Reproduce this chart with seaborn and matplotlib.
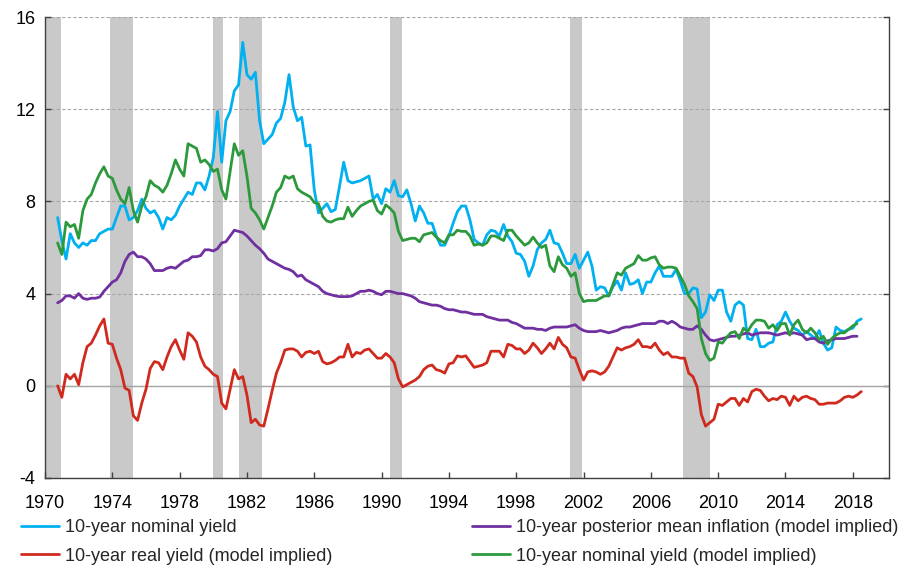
import numpy as np
import pandas as pd
import seaborn as sns
import matplotlib.pyplot as plt

# Quarterly observations, 1970Q4 .. 2018Q3
quarters = pd.period_range("1970Q4", "2018Q3", freq="Q")

nominal_yield = [
    7.3,
    6.3, 5.5, 6.6, 6.2,  6.0, 6.2, 6.1, 6.3,  6.3, 6.6, 6.7, 6.8,  6.8, 7.3, 7.8, 7.8,
    7.2, 7.3, 7.6, 8.1,  7.7, 7.5, 7.6, 7.3,  6.8, 7.3, 7.2, 7.4,  7.8, 8.1, 8.4, 8.3,
    8.8, 8.8, 8.5, 9.1,  9.9, 11.9, 9.7, 11.5,  11.9, 12.8, 13.05, 14.9,  13.5, 13.3, 13.6, 11.5,
    10.5, 10.7, 10.9, 11.4,  11.6, 12.3, 13.5, 12.1,  11.5, 11.65, 10.4, 10.45,  8.5, 7.5, 7.7, 7.9,
    7.55, 7.65, 8.65, 9.7,  8.9, 8.8, 8.85, 8.9,  9.0, 9.1, 8.1, 8.3,  7.9, 8.55, 8.4, 8.9,
    8.25, 8.2, 8.5, 7.9,  7.15, 7.8, 7.5, 7.05,  7.05, 6.5, 6.1, 6.1,  6.5, 7.05, 7.55, 7.8,
    7.8, 7.2, 6.35, 6.2,  6.1, 6.55, 6.75, 6.7,  6.5, 7.0, 6.5, 6.25,  5.75, 5.7, 5.4, 4.75,
    5.2, 5.9, 6.2, 6.35,  6.75, 6.2, 6.15, 5.75,  5.3, 5.3, 5.7, 5.1,  5.45, 5.8, 5.2, 4.15,
    4.3, 4.25, 3.9, 4.3,  4.55, 4.15, 4.9, 4.4,  4.45, 4.6, 4.0, 4.5,  4.5, 4.9, 5.2, 4.75,
    4.75, 4.75, 5.05, 4.55,  4.0, 4.0, 4.25, 4.2,  2.95, 3.2, 3.95, 3.7,  4.15, 4.15, 3.2, 2.8,
    3.5, 3.65, 3.5, 2.05,  2.0, 2.45, 1.7, 1.7,  1.85, 1.9, 2.65, 2.8,  3.2, 2.8, 2.5, 2.4,
    2.2, 2.35, 2.2, 2.05,  2.4, 1.85, 1.55, 1.65,  2.55, 2.4, 2.35, 2.45,  2.5, 2.8, 2.9,
]

posterior_inflation = [
    3.6,
    3.7, 3.9, 3.9, 3.8,  4.0, 3.8, 3.75, 3.8,  3.8, 3.85, 4.1, 4.3,  4.5, 4.6, 4.9, 5.4,
    5.7, 5.8, 5.6, 5.6,  5.5, 5.3, 5.0, 5.0,  5.0, 5.1, 5.15, 5.1,  5.25, 5.4, 5.45, 5.6,
    5.6, 5.65, 5.9, 5.9,  5.85, 5.95, 6.2, 6.25,  6.5, 6.75, 6.7, 6.65,  6.5, 6.3, 6.1, 5.95,
    5.75, 5.5, 5.4, 5.3,  5.2, 5.1, 5.05, 4.95,  4.75, 4.8, 4.6, 4.5,  4.4, 4.3, 4.1, 4.0,
    3.95, 3.9, 3.87, 3.87,  3.87, 3.9, 4.0, 4.1,  4.1, 4.15, 4.1, 4.0,  3.95, 4.1, 4.1, 4.05,
    4.0, 4.0, 3.95, 3.9,  3.8, 3.65, 3.6, 3.55,  3.5, 3.5, 3.45, 3.35,  3.3, 3.3, 3.25, 3.2,
    3.2, 3.15, 3.1, 3.1,  3.1, 3.0, 2.95, 2.9,  2.85, 2.85, 2.85, 2.75,  2.7, 2.6, 2.5, 2.5,
    2.5, 2.45, 2.45, 2.4,  2.5, 2.55, 2.55, 2.55,  2.55, 2.6, 2.65, 2.5,  2.4, 2.35, 2.35, 2.35,
    2.4, 2.35, 2.3, 2.35,  2.4, 2.5, 2.55, 2.55,  2.6, 2.65, 2.7, 2.7,  2.7, 2.7, 2.8, 2.8,
    2.7, 2.8, 2.7, 2.55,  2.5, 2.45, 2.45, 2.6,  2.45, 2.2, 2.0, 1.95,  2.0, 2.05, 2.1, 2.15,
    2.15, 2.2, 2.25, 2.3,  2.2, 2.25, 2.3, 2.3,  2.3, 2.25, 2.2, 2.25,  2.3, 2.25, 2.3, 2.25,
    2.2, 2.0, 2.05, 2.05,  1.9, 1.85, 1.95, 2.0,  2.05, 2.05, 2.05, 2.1,  2.15, 2.15, None,
]

real_yield = [
    0.0,
    -0.5, 0.5, 0.3, 0.5,  0.05, 1.0, 1.7, 1.85,  2.2, 2.6, 2.9, 1.85,  1.8, 1.2, 0.7, -0.1,
    -0.2, -1.3, -1.5, -0.75,  -0.15, 0.75, 1.05, 1.0,  0.7, 1.25, 1.7, 2.0,  1.55, 1.15, 2.3, 2.15,
    1.9, 1.25, 0.85, 0.7,  0.5, 0.4, -0.75, -1.0,  -0.15, 0.7, 0.3, 0.4,  -0.4, -1.6, -1.45, -1.7,
    -1.75, -1.0, -0.2, 0.55,  1.0, 1.55, 1.6, 1.6,  1.5, 1.25, 1.45, 1.5,  1.4, 1.5, 1.05, 0.95,
    1.0, 1.1, 1.25, 1.25,  1.8, 1.25, 1.45, 1.4,  1.55, 1.6, 1.4, 1.2,  1.2, 1.4, 1.25, 1.0,
    0.3, -0.05, 0.05, 0.15,  0.25, 0.4, 0.7, 0.85,  0.9, 0.7, 0.65, 0.55,  0.95, 1.0, 1.3, 1.25,
    1.3, 1.05, 0.8, 0.85,  0.9, 1.0, 1.5, 1.5,  1.5, 1.25, 1.8, 1.75,  1.6, 1.6, 1.4, 1.55,
    1.85, 1.65, 1.4, 1.6,  1.85, 1.6, 2.1, 1.8,  1.65, 1.25, 1.2, 0.7,  0.25, 0.6, 0.65, 0.6,
    0.5, 0.6, 0.85, 1.25,  1.65, 1.55, 1.65, 1.7,  1.8, 2.0, 1.7, 1.7,  1.65, 1.85, 1.55, 1.35,
    1.45, 1.25, 1.25, 1.2,  1.2, 0.55, 0.4, -0.05,  -1.25, -1.75, -1.6, -1.45,  -0.8, -0.85, -0.7, -0.55,
    -0.55, -0.85, -0.55, -0.7,  -0.25, -0.15, -0.2, -0.45,  -0.65, -0.55, -0.6, -0.45,  -0.5, -0.85, -0.45, -0.65,
    -0.5, -0.45, -0.55, -0.6,  -0.8, -0.8, -0.75, -0.75,  -0.75, -0.65, -0.5, -0.45,  -0.5, -0.4, -0.25,
]

model_nominal = [
    6.2,
    5.7, 7.1, 6.9, 7.0,  6.4, 7.6, 8.1, 8.3,  8.8, 9.2, 9.5, 9.1,  9.0, 8.5, 8.1, 7.9,
    8.6, 7.6, 7.1, 7.8,  8.2, 8.9, 8.7, 8.6,  8.4, 8.7, 9.2, 9.8,  9.4, 9.1, 10.5, 10.4,
    10.3, 9.7, 9.8, 9.6,  9.3, 9.4, 8.5, 8.1,  9.3, 10.5, 10.0, 10.2,  9.1, 7.7, 7.5, 7.2,
    6.8, 7.3, 7.8, 8.4,  8.6, 9.1, 9.0, 9.1,  8.55, 8.4, 8.3, 8.2,  7.95, 7.9, 7.35, 7.15,
    7.1, 7.2, 7.25, 7.25,  7.75, 7.35, 7.6, 7.8,  7.9, 8.0, 8.05, 7.6,  7.45, 7.85, 7.7, 7.5,
    6.7, 6.3, 6.35, 6.4,  6.4, 6.25, 6.55, 6.6,  6.65, 6.45, 6.3, 6.2,  6.55, 6.55, 6.75, 6.7,
    6.7, 6.5, 6.1, 6.15,  6.1, 6.2, 6.5, 6.5,  6.4, 6.3, 6.75, 6.75,  6.5, 6.3, 6.1, 6.2,
    6.45, 6.2, 6.0, 6.1,  5.2, 4.95, 5.6, 5.25,  5.1, 4.75, 4.9, 4.0,  3.65, 3.7, 3.7, 3.7,
    3.8, 3.9, 3.9, 4.4,  4.9, 4.8, 5.1, 5.2,  5.3, 5.65, 5.45, 5.45,  5.55, 5.6, 5.25, 5.1,
    5.15, 5.15, 5.1, 4.75,  4.4, 3.9, 3.65, 3.35,  2.05, 1.4, 1.1, 1.2,  1.9, 1.85, 2.1, 2.3,
    2.35, 2.05, 2.5, 2.35,  2.65, 2.85, 2.85, 2.8,  2.5, 2.65, 2.4, 2.7,  2.7, 2.2, 2.65, 2.85,
    2.45, 2.3, 2.5, 2.3,  2.0, 2.15, 1.8, 2.05,  2.2, 2.3, 2.3, 2.45,  2.6, 2.7, None,
]

# NBER recessions (decimal years)
recessions = [(1969.9, 1970.95), (1973.85, 1975.25), (1980.0, 1980.55),
              (1981.5, 1982.92), (1990.52, 1991.22), (2001.2, 2001.88),
              (2007.92, 2009.5)]

labels = {
    "nominal": "10-year nominal yield",
    "real": "10-year real yield (model implied)",
    "inflation": "10-year posterior mean inflation (model implied)",
    "model": "10-year nominal yield (model implied)",
}
colors = {
    "nominal": "#00B0F0",
    "real": "#D02A1E",
    "inflation": "#7030A0",
    "model": "#2C9A3C",
}

df = pd.DataFrame({
    "date": quarters.year + (quarters.quarter - 1) / 4,
    "nominal": nominal_yield,
    "real": real_yield,
    "inflation": posterior_inflation,
    "model": model_nominal,
}).astype(float)

sns.set_style("white")
plt.rcParams["font.family"] = ["Liberation Sans", "DejaVu Sans"]
plt.rcParams["axes.unicode_minus"] = False

fig = plt.figure(figsize=(9.07, 5.67), dpi=100)
ax = fig.add_axes([45 / 907, 1 - 478 / 567, 844 / 907, 461 / 567])

# recession shading
for start, end in recessions:
    ax.axvspan(start, end, color="#C9C9C9", lw=0, zorder=0.5)

for key in ["nominal", "real", "inflation", "model"]:
    sns.lineplot(data=df, x="date", y=key, color=colors[key], lw=2.0,
                 label=labels[key], ax=ax, zorder=3)
h, l = ax.get_legend_handles_labels()
handles = dict(zip(l, h))
ax.get_legend().remove()

ax.set_xlim(1970, 2020.15)
ax.set_ylim(-4, 16)
ax.set_xticks(np.arange(1970, 2019, 4))
ax.set_yticks(np.arange(-4, 17, 4))
ax.set_xlabel("")
ax.set_ylabel("")

ax.yaxis.grid(True, color="#A6A6A6", linestyle=(0, (3, 2)), lw=0.8, zorder=1)
ax.xaxis.grid(False)
ax.axhline(0, color="#A6A6A6", lw=1.0, zorder=1)

for side in ["left", "right", "bottom"]:
    ax.spines[side].set_visible(True)
    ax.spines[side].set_color("#404040")
    ax.spines[side].set_linewidth(1.0)
ax.spines["top"].set_visible(False)

ax.tick_params(axis="both", direction="in", length=4, width=1, color="#404040",
               labelsize=13, labelcolor="black")
ax.tick_params(axis="y", right=True, left=True, pad=7)
ax.tick_params(axis="x", bottom=True, pad=12)

# two-column legend below the plot
leg_kw = dict(loc="upper left", frameon=False, fontsize=13, handlelength=2.1,
              handletextpad=0.35, labelspacing=0.65, borderpad=0, borderaxespad=0)
fig.legend([handles[labels["nominal"]], handles[labels["real"]]],
           [labels["nominal"], labels["real"]],
           bbox_to_anchor=(21 / 907, 1 - 519 / 567), **leg_kw)
fig.legend([handles[labels["inflation"]], handles[labels["model"]]],
           [labels["inflation"], labels["model"]],
           bbox_to_anchor=(472 / 907, 1 - 519 / 567), **leg_kw)

fig.savefig("out.png", dpi=100)
